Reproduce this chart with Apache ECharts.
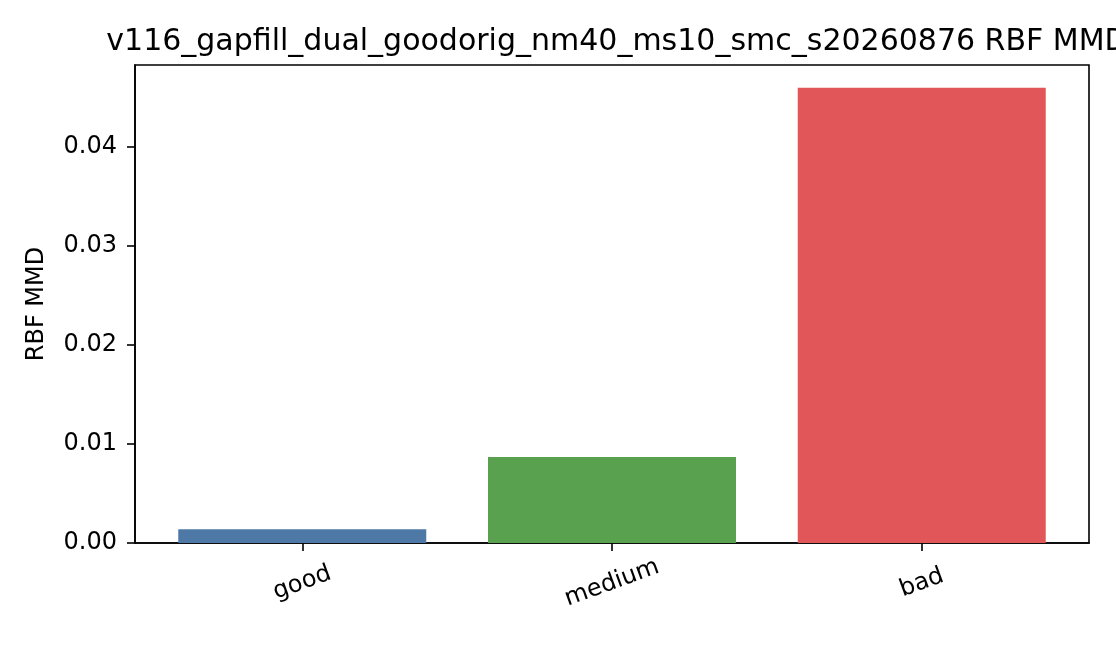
<!DOCTYPE html>
<html lang="en">
<head>
    <meta charset="UTF-8">
    <title>RBF MMD</title>
    <script src="https://cdn.jsdelivr.net/npm/echarts@6/dist/echarts.min.js"></script>
    <style>
        html, body { margin: 0; padding: 0; background: #fff; }
        #chart { width: 1116px; height: 648px; }
    </style>
</head>
<body>
    <div id="chart"></div>

    <script>
        const categories = ['good', 'medium', 'bad'];
        const mmdValues = [0.0014, 0.0087, 0.0460];
        const barColors = ['#4e79a7', '#59a14f', '#e15759'];
        const yTicks = [0, 0.01, 0.02, 0.03, 0.04];
        const titleText = 'v116_gapfill_dual_goodorig_nm40_ms10_smc_s20260876 RBF MMD';

        const font = 'DejaVu Sans';
        const chart = echarts.init(document.getElementById('chart'));
        const xPositions = categories.map((c, i) => i);

        chart.setOption({
            animation: false,
            title: {
                text: titleText,
                left: 612,
                top: 22,
                textAlign: 'center',
                textStyle: { fontFamily: font, fontSize: 30, fontWeight: 'normal', color: '#000' }
            },
            grid: {
                left: 135, right: 27, top: 65, bottom: 105,
                show: true, borderColor: '#000', borderWidth: 1.6, backgroundColor: 'transparent'
            },
            xAxis: {
                type: 'value',
                min: -0.54,
                max: 2.54,
                splitLine: { show: false },
                axisLine: { onZero: false, lineStyle: { color: '#000', width: 1.6 } },
                axisTick: { show: true, length: 8, lineStyle: { color: '#000', width: 1.6 }, customValues: xPositions },
                axisLabel: {
                    customValues: xPositions,
                    formatter: v => categories[Math.round(v)],
                    rotate: 20,
                    align: 'center',
                    verticalAlign: 'middle',
                    margin: 40,
                    fontFamily: font, fontSize: 24, color: '#000'
                }
            },
            yAxis: {
                type: 'value',
                min: 0,
                max: 0.0483,
                name: 'RBF MMD',
                nameLocation: 'middle',
                nameGap: 86,
                nameTextStyle: { fontFamily: font, fontSize: 24, color: '#000' },
                splitLine: { show: false },
                axisLine: { show: true, onZero: false, lineStyle: { color: '#000', width: 1.6 } },
                axisTick: { show: true, length: 8, lineStyle: { color: '#000', width: 1.6 }, customValues: yTicks },
                axisLabel: {
                    customValues: yTicks,
                    formatter: v => v.toFixed(2),
                    margin: 18,
                    fontFamily: font, fontSize: 24, color: '#000'
                }
            },
            series: [{
                type: 'bar',
                barWidth: 248,
                data: mmdValues.map((v, i) => ({
                    value: [xPositions[i], v],
                    itemStyle: { color: barColors[i] }
                }))
            }]
        });
    </script>
</body>
</html>
